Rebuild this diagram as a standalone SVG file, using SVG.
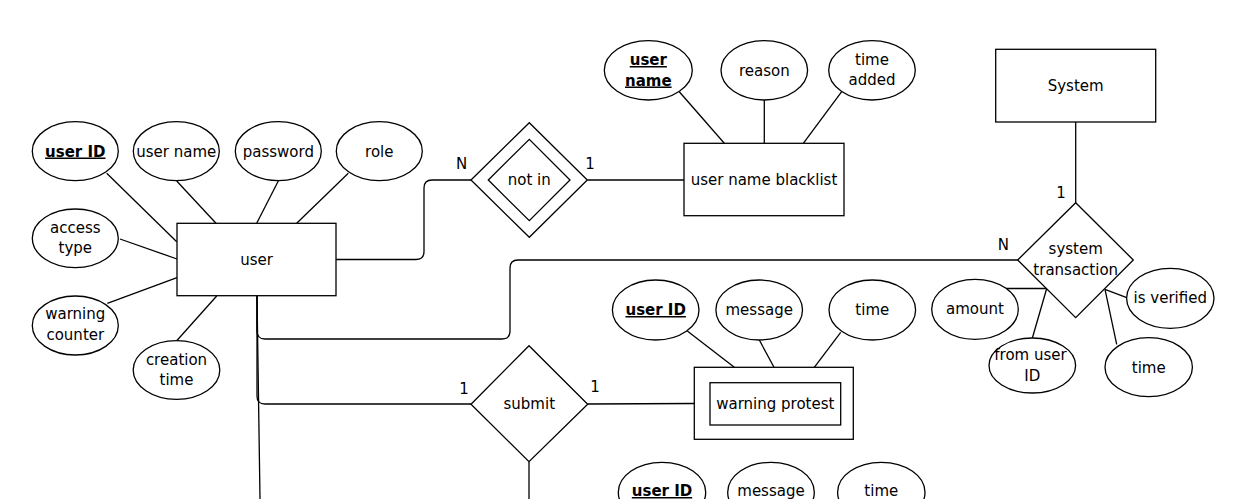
<svg xmlns="http://www.w3.org/2000/svg" width="1233" height="499" viewBox="0 0 1233 499">
<style>
.s{fill:#fff;stroke:#000;stroke-width:1.3}
.c{fill:none;stroke:#000;stroke-width:1.3}
text{font-family:"DejaVu Sans",Verdana,sans-serif;font-size:15px;fill:#000;text-anchor:middle}
.k{font-weight:bold;text-decoration:underline}
.l{text-anchor:start}
</style>
<rect width="1233" height="499" fill="#fff"/>
<g id="connectors">
<line class="c" x1="106.7" y1="173.3" x2="176.7" y2="241.7"/>
<line class="c" x1="176.7" y1="181" x2="216" y2="223.3"/>
<line class="c" x1="278.3" y1="181" x2="256.7" y2="223.3"/>
<line class="c" x1="348.3" y1="173.3" x2="296.7" y2="223.3"/>
<line class="c" x1="120" y1="239" x2="177" y2="259"/>
<line class="c" x1="107.3" y1="303.3" x2="177" y2="277.7"/>
<line class="c" x1="176.7" y1="340.7" x2="216.7" y2="296"/>
<path class="c" d="M336,259.5 H416 Q424,259.5 424,251.5 V188 Q424,180 432,180 H471"/>
<path class="c" d="M257,296 V331 Q257,339 265,339 H502 Q510,339 510,331 V268 Q510,260 518,260 H1018"/>
<path class="c" d="M257,296 V396 Q257,404 265,404 H471"/>
<path class="c" d="M257,296 L260,499"/>
<line class="c" x1="587.3" y1="180" x2="684" y2="180"/>
<line class="c" x1="679.3" y1="91.7" x2="724.3" y2="143.3"/>
<line class="c" x1="764.3" y1="100" x2="764.3" y2="143.3"/>
<line class="c" x1="841.7" y1="91.7" x2="803.3" y2="143.3"/>
<line class="c" x1="1075.7" y1="122" x2="1075.7" y2="202.7"/>
<line class="c" x1="1005" y1="288.5" x2="1046" y2="288.5"/>
<line class="c" x1="1032.3" y1="338.3" x2="1046.7" y2="288.5"/>
<line class="c" x1="1126.7" y1="297.7" x2="1105" y2="289.3"/>
<line class="c" x1="1116.7" y1="344.3" x2="1105" y2="289.3"/>
<line class="c" x1="587.7" y1="404" x2="694.3" y2="403.5"/>
<line class="c" x1="529" y1="461.7" x2="529" y2="499"/>
<line class="c" x1="687.3" y1="331" x2="734.3" y2="367.3"/>
<line class="c" x1="759.3" y1="340" x2="774" y2="367.3"/>
<line class="c" x1="840.7" y1="332.3" x2="814.3" y2="367.3"/>
<text x="461.7" y="168.5">N</text>
<text x="590" y="168.5">1</text>
<text x="1061" y="198">1</text>
<text x="1003.3" y="250">N</text>
<text x="464" y="393.5">1</text>
<text x="595" y="392">1</text>
</g>
<g id="user">
<rect class="s" x="177" y="223.3" width="159" height="72.4"/>
<text x="256.5" y="264.5">user</text>
</g>
<g id="attr-user-id">
<ellipse class="s" cx="75.3" cy="151.2" rx="43" ry="29.5"/>
<text class="k" x="75.3" y="156.5">user ID</text>
</g>
<g id="attr-user-name">
<ellipse class="s" cx="176.3" cy="151.2" rx="43" ry="29.5"/>
<text x="176.3" y="156.5">user name</text>
</g>
<g id="attr-password">
<ellipse class="s" cx="278.3" cy="151.2" rx="43" ry="29.5"/>
<text x="278.3" y="156.5">password</text>
</g>
<g id="attr-role">
<ellipse class="s" cx="379.3" cy="151.2" rx="43" ry="29.5"/>
<text x="379.3" y="156.5">role</text>
</g>
<g id="attr-access-type">
<ellipse class="s" cx="75.3" cy="238.3" rx="43" ry="29.3"/>
<text x="75.3" y="233">access</text>
<text x="75.3" y="253">type</text>
</g>
<g id="attr-warning-counter">
<ellipse class="s" cx="75.3" cy="325.5" rx="43" ry="29.5"/>
<text x="75.3" y="319">warning</text>
<text x="75.3" y="340">counter</text>
</g>
<g id="attr-creation-time">
<ellipse class="s" cx="176.5" cy="370" rx="43.3" ry="29.3"/>
<text x="176.5" y="364.5">creation</text>
<text x="176.5" y="384.5">time</text>
</g>
<g id="not-in">
<polygon class="s" points="471,180 529.3,122.7 587.3,180 529.3,237.3"/>
<polygon class="s" points="488.3,180 529.3,139.3 570,180 529.3,220.7"/>
<text x="529.3" y="185">not in</text>
</g>
<g id="user-name-blacklist">
<rect class="s" x="684" y="143.3" width="160" height="72.4"/>
<text x="764" y="185">user name blacklist</text>
</g>
<g id="attr-bl-user-name">
<ellipse class="s" cx="648.3" cy="70.3" rx="44" ry="29.7"/>
<text class="k" x="648.3" y="65">user</text>
<text class="k" x="648.3" y="85.5">name</text>
</g>
<g id="attr-bl-reason">
<ellipse class="s" cx="764.3" cy="70.3" rx="43.3" ry="29.7"/>
<text x="764.3" y="75.5">reason</text>
</g>
<g id="attr-bl-time-added">
<ellipse class="s" cx="872" cy="70.3" rx="43.3" ry="29.7"/>
<text x="872" y="64.5">time</text>
<text x="872" y="85">added</text>
</g>
<g id="system">
<rect class="s" x="995.7" y="49.3" width="160" height="72.7"/>
<text x="1075.7" y="91">System</text>
</g>
<g id="system-transaction">
<polygon class="s" points="1017.7,260 1075.7,202.7 1133.3,260 1075.7,317.7"/>
<text x="1075.7" y="254">system</text>
<text x="1075.7" y="274.5">transaction</text>
</g>
<g id="attr-amount">
<ellipse class="s" cx="975" cy="309.3" rx="43.3" ry="30"/>
<text x="975" y="314">amount</text>
</g>
<g id="attr-from-user-id">
<ellipse class="s" cx="1032.3" cy="365.5" rx="43.3" ry="27.5"/>
<text x="1030.5" y="359.5">from user</text>
<text x="1032.3" y="380.5">ID</text>
</g>
<g id="attr-is-verified">
<ellipse class="s" cx="1170.3" cy="298.3" rx="43.7" ry="30"/>
<text x="1170.3" y="303">is verified</text>
</g>
<g id="attr-st-time">
<ellipse class="s" cx="1148.7" cy="367.2" rx="43.7" ry="29.5"/>
<text x="1148.7" y="372.5">time</text>
</g>
<g id="submit">
<polygon class="s" points="471,404.3 529,345.7 587.7,404.3 529,461.7"/>
<text x="529.3" y="409">submit</text>
</g>
<g id="warning-protest">
<rect class="s" x="694.3" y="367.3" width="159" height="72"/>
<rect class="s" x="710" y="382.7" width="130.7" height="42.3"/>
<text x="775.3" y="408.5">warning protest</text>
</g>
<g id="attr-wp-user-id">
<ellipse class="s" cx="655.7" cy="310" rx="43.3" ry="30"/>
<text class="k" x="655.7" y="315">user ID</text>
</g>
<g id="attr-wp-message">
<ellipse class="s" cx="759.2" cy="310" rx="43.3" ry="30"/>
<text x="759.2" y="315">message</text>
</g>
<g id="attr-wp-time">
<ellipse class="s" cx="872.3" cy="310" rx="43.3" ry="30"/>
<text x="872.3" y="315">time</text>
</g>
<g id="attr-b-user-id">
<ellipse class="s" cx="662" cy="492.3" rx="43.7" ry="30"/>
<text class="k" x="662" y="496">user ID</text>
</g>
<g id="attr-b-message">
<ellipse class="s" cx="771" cy="492.3" rx="43.3" ry="30"/>
<text x="771" y="496">message</text>
</g>
<g id="attr-b-time">
<ellipse class="s" cx="881.3" cy="492.3" rx="43.7" ry="30"/>
<text x="881.3" y="496">time</text>
</g>
</svg>
